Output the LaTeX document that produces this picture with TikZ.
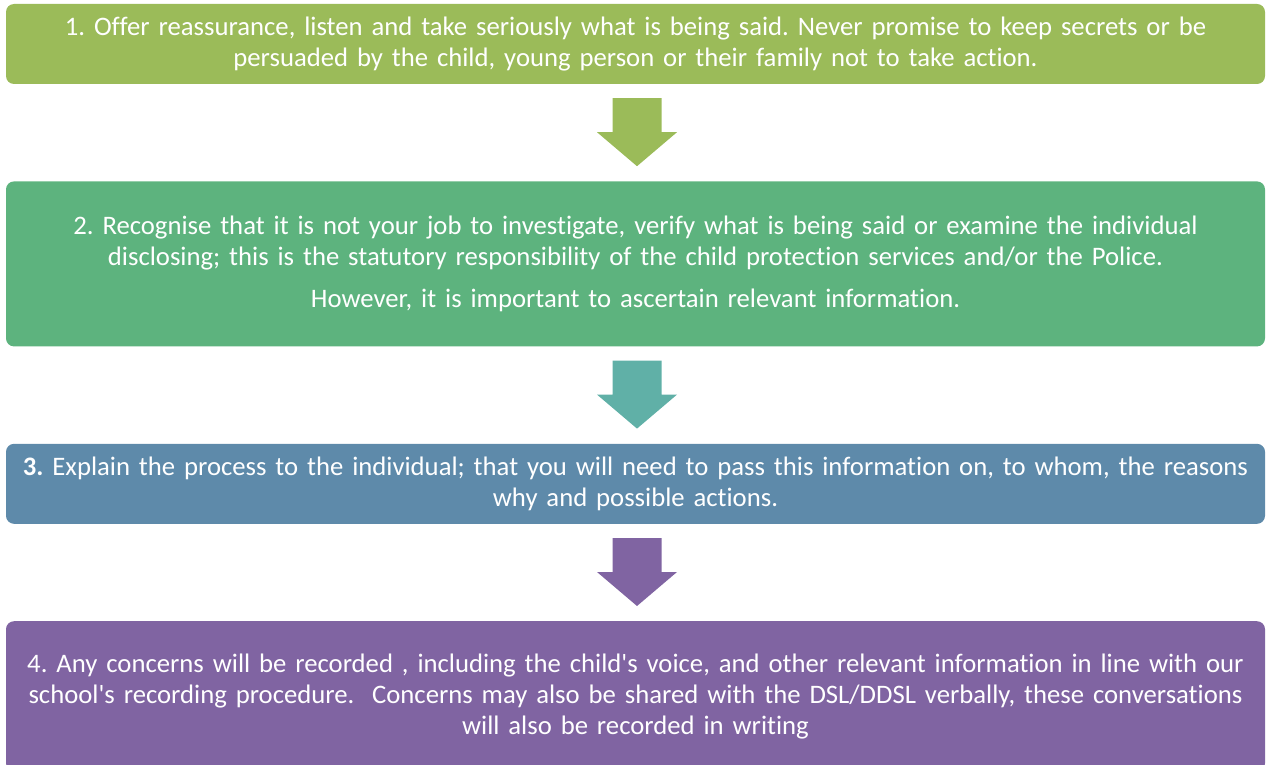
\documentclass[tikz,border=0pt]{standalone}
\usepackage{fontspec}
\setmainfont{Carlito}[Ligatures=NoCommon]
\frenchspacing
\usetikzlibrary{positioning, calc}
\definecolor{stepgreen}{HTML}{9BBB59}
\definecolor{stepjade}{HTML}{5DB37E}
\definecolor{stepteal}{HTML}{60B0A7}
\definecolor{stepblue}{HTML}{5E8AAA}
\definecolor{steppurple}{HTML}{8064A2}

\begin{document}
\begin{tikzpicture}[x=1pt, y=1pt, node distance=97pt,
	box/.style={rounded corners=8pt, minimum width=1259pt, text width=1256pt, align=center,
		text=white, inner sep=0pt, font=\fontsize{26.7}{31}\selectfont}]
	\useasboundingbox (0,0) rectangle (1266,-765);
	\node[box, fill=stepgreen, minimum height=80pt] (b1) at (635.5,-44)
		{1. Offer reassurance, listen and take seriously what is being said. Never promise to keep secrets or be\\
		persuaded by the child, young person or their family not to take action.};
	\node[box, fill=stepjade, minimum height=165pt] (b2) [below=of b1]
		{2. Recognise that it is not your job to investigate, verify what is being said or examine the individual\\
		disclosing; this is the statutory responsibility of the child protection services and/or the Police.\\[11pt]
		However, it is important to ascertain relevant information.};
	\node[box, fill=stepblue, minimum height=80pt] (b3) [below=of b2]
		{\textbf{3.} Explain the process to the individual; that you will need to pass this information on, to whom, the reasons\\
		why and possible actions.};
	\node[box, fill=steppurple, minimum height=150pt] (b4) [below=of b3]
		{4. Any concerns will be recorded , including the child\textquotesingle s voice, and other relevant information in line with our\\
		school\textquotesingle s recording procedure.\ \ Concerns may also be shared with the DSL/DDSL verbally, these conversations\\
		will also be recorded in writing};

	\foreach \from/\col in {b1/stepgreen, b2/stepteal, b3/steppurple}
		\fill[\col] ($(\from.south)+(-23,-14)$) -- ++(49,0) -- ++(0,-34) -- ++(15.5,0)
			-- ++(-40,-34) -- ++(-40,34) -- ++(15.5,0) -- cycle;
\end{tikzpicture}
\end{document}
